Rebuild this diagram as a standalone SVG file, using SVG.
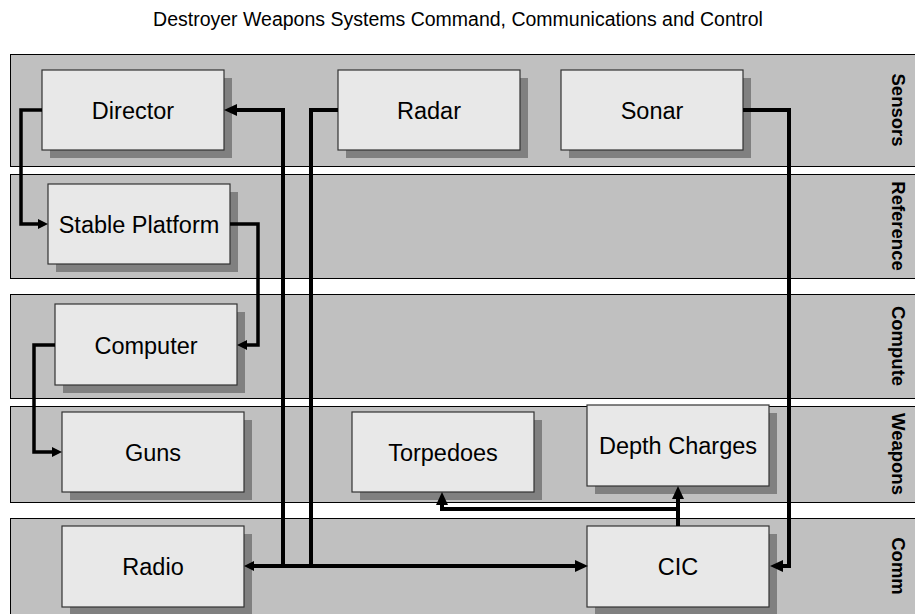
<svg xmlns="http://www.w3.org/2000/svg" width="915" height="614" viewBox="0 0 915 614">
  <style>
    .lane { fill: #c0c0c0; stroke: #000; stroke-width: 1; }
    .lane-label { font-family: "Liberation Sans", Arial, sans-serif; font-size: 18.5px; font-weight: bold; fill: #000; text-anchor: middle; }
    .shadow { fill: #808080; }
    .box { fill: #e8e8e8; stroke: #333; stroke-width: 1.2; }
    .label { font-family: "Liberation Sans", Arial, sans-serif; font-size: 23.5px; fill: #000; text-anchor: middle; }
    .title { font-family: "Liberation Sans", Arial, sans-serif; font-size: 19.5px; fill: #000; text-anchor: middle; }
    .wire { fill: none; stroke: #000; stroke-width: 4; stroke-linejoin: miter; }
    .wire-thin { fill: none; stroke: #000; stroke-width: 3.5; stroke-linejoin: miter; }
  </style>
  <defs>
    <marker id="arrow" markerUnits="userSpaceOnUse" markerWidth="14" markerHeight="13" refX="1" refY="6.5" orient="auto">
      <path d="M0,0.5 L13,6.5 L0,12.5 z" fill="#000"/>
    </marker>
    <marker id="arrow-sm" markerUnits="userSpaceOnUse" markerWidth="11" markerHeight="11" refX="1" refY="5" orient="auto">
      <path d="M0,0 L10,5 L0,10 z" fill="#000"/>
    </marker>
  </defs>

  <rect width="915" height="614" fill="#fff"/>

  <text class="title" x="458" y="26">Destroyer Weapons Systems Command, Communications and Control</text>

  <!-- swimlanes -->
  <g id="lanes">
    <g id="lane-sensors">
      <rect class="lane" x="10.5" y="54.5" width="910" height="112"/>
      <text class="lane-label" transform="translate(892,110) rotate(90)">Sensors</text>
    </g>
    <g id="lane-reference">
      <rect class="lane" x="10.5" y="174.5" width="910" height="104"/>
      <text class="lane-label" transform="translate(892,226) rotate(90)">Reference</text>
    </g>
    <g id="lane-compute">
      <rect class="lane" x="10.5" y="294.5" width="910" height="104"/>
      <text class="lane-label" transform="translate(892,346) rotate(90)">Compute</text>
    </g>
    <g id="lane-weapons">
      <rect class="lane" x="10.5" y="406.5" width="910" height="96"/>
      <text class="lane-label" transform="translate(892,454) rotate(90)">Weapons</text>
    </g>
    <g id="lane-comm">
      <rect class="lane" x="10.5" y="518.5" width="910" height="110"/>
      <text class="lane-label" transform="translate(892,566) rotate(90)">Comm</text>
    </g>
  </g>

  <!-- nodes -->
  <g id="director">
    <rect class="shadow" x="50" y="78" width="182" height="80"/>
    <rect class="box" x="42" y="70" width="182" height="80"/>
    <text class="label" x="133" y="119">Director</text>
  </g>
  <g id="radar">
    <rect class="shadow" x="346" y="78" width="182" height="80"/>
    <rect class="box" x="338" y="70" width="182" height="80"/>
    <text class="label" x="429" y="119">Radar</text>
  </g>
  <g id="sonar">
    <rect class="shadow" x="569" y="78" width="182" height="80"/>
    <rect class="box" x="561" y="70" width="182" height="80"/>
    <text class="label" x="652" y="119">Sonar</text>
  </g>
  <g id="stable-platform">
    <rect class="shadow" x="56" y="192" width="182" height="80"/>
    <rect class="box" x="48" y="184" width="182" height="80"/>
    <text class="label" x="139" y="233">Stable Platform</text>
  </g>
  <g id="computer">
    <rect class="shadow" x="63" y="312" width="182" height="81"/>
    <rect class="box" x="55" y="304" width="182" height="81"/>
    <text class="label" x="146" y="353.5">Computer</text>
  </g>
  <g id="guns">
    <rect class="shadow" x="70" y="420" width="182" height="80"/>
    <rect class="box" x="62" y="412" width="182" height="80"/>
    <text class="label" x="153" y="461">Guns</text>
  </g>
  <g id="torpedoes">
    <rect class="shadow" x="360" y="420" width="182" height="80"/>
    <rect class="box" x="352" y="412" width="182" height="80"/>
    <text class="label" x="443" y="461">Torpedoes</text>
  </g>
  <g id="depth-charges">
    <rect class="shadow" x="595" y="413" width="182" height="81"/>
    <rect class="box" x="587" y="405" width="182" height="81"/>
    <text class="label" x="678" y="454">Depth Charges</text>
  </g>
  <g id="radio">
    <rect class="shadow" x="70" y="534" width="182" height="81"/>
    <rect class="box" x="62" y="526" width="182" height="81"/>
    <text class="label" x="153" y="575">Radio</text>
  </g>
  <g id="cic">
    <rect class="shadow" x="595" y="534" width="182" height="81"/>
    <rect class="box" x="587" y="526" width="182" height="81"/>
    <text class="label" x="678" y="575">CIC</text>
  </g>

  <!-- connectors -->
  <g id="connectors">
    <path class="wire-thin" d="M42,110 H21 V224 H39" marker-end="url(#arrow-sm)"/>
    <path class="wire-thin" d="M230,224 H258 V345 H246" marker-end="url(#arrow-sm)"/>
    <path class="wire-thin" d="M55,345 H34 V452 H53" marker-end="url(#arrow-sm)"/>
    <path class="wire" d="M283,566 V110 H236" marker-end="url(#arrow)"/>
    <path class="wire" d="M311,566 H253" marker-end="url(#arrow-sm)"/>
    <path class="wire" d="M338,110 H311 V566 H576" marker-end="url(#arrow)"/>
    <path class="wire" d="M743,110 H789 V566 H782" marker-end="url(#arrow)"/>
    <path class="wire" d="M678,526 V498" marker-end="url(#arrow)"/>
    <path class="wire" d="M678,509 H442 V504" marker-end="url(#arrow)"/>
  </g>
</svg>
